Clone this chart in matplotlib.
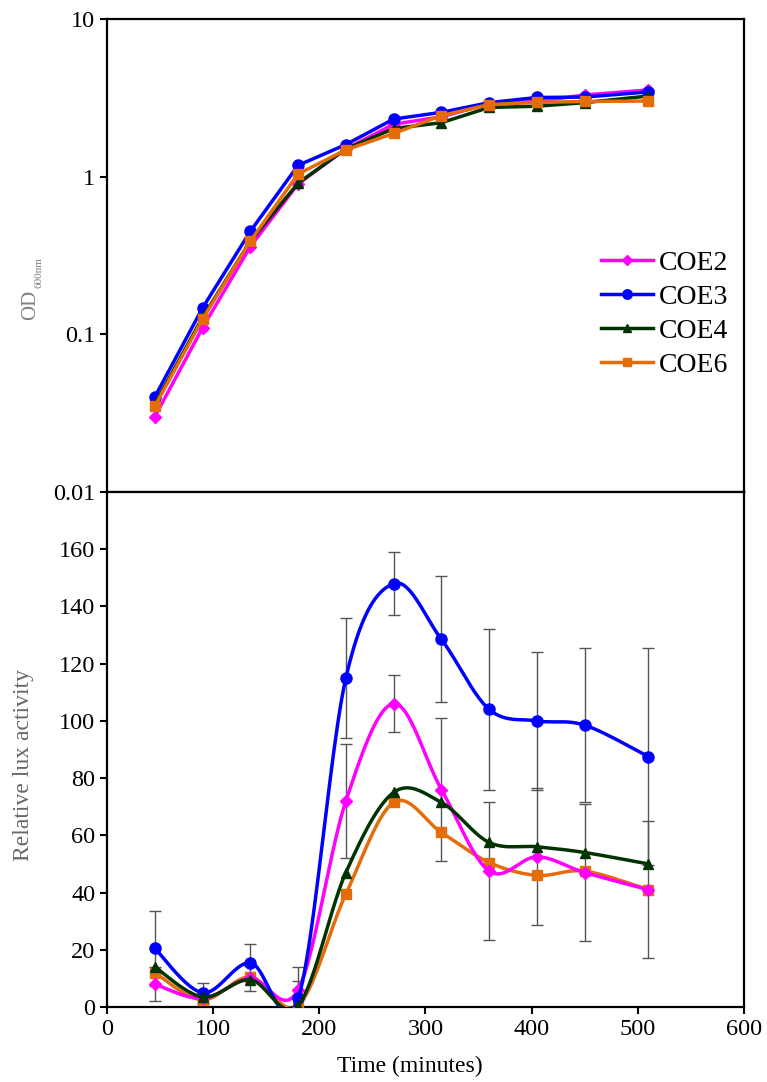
import numpy as np
import matplotlib
matplotlib.use("Agg")
import matplotlib.pyplot as plt

plt.rcParams['font.family'] = ['Liberation Serif', 'DejaVu Serif']

# sampling times (minutes)
time = [45, 90, 135, 180, 225, 270, 315, 360, 405, 450, 510]

# OD600 growth curves
od_coe2 = [0.030, 0.110, 0.36, 0.90, 1.50, 2.15, 2.40, 2.90, 3.00, 3.30, 3.55]
od_coe3 = [0.040, 0.147, 0.45, 1.18, 1.60, 2.32, 2.56, 2.95, 3.18, 3.20, 3.45]
od_coe4 = [0.036, 0.128, 0.39, 0.91, 1.50, 2.02, 2.20, 2.75, 2.80, 2.95, 3.25]
od_coe6 = [0.035, 0.125, 0.39, 1.04, 1.48, 1.88, 2.44, 2.87, 2.96, 3.00, 3.02]

# relative lux activity
lux_coe2 = [8, 3, 10, 6, 72, 106, 76, 47.5, 52.5, 47, 41]
lux_coe3 = [20.5, 5, 15.5, 3, 115, 148, 128.5, 104, 100, 98.5, 87.5]
lux_coe4 = [14, 3.5, 9.5, 0.5, 47, 75, 71.5, 57.5, 56, 54, 50]
lux_coe6 = [12, 2.5, 10.5, 0.5, 39.5, 71.5, 61, 50.5, 46, 47.5, 41]

err_coe2 = [6, 2, 4.5, 8, 20, 10, 25, 24, 24, 24, 24]
err_coe3 = [13, 3.5, 6.5, 6, 21, 11, 22, 28, 24, 27, 38]

names = ['COE2', 'COE3', 'COE4', 'COE6']
colors = ['#FF00FF', '#0000FF', '#003300', '#E46C0A']
markers = ['D', 'o', '^', 's']
msizes = [6, 8, 7, 7]


def smooth(x, y, n=25):
    # Excel-like smoothed line (cubic Bezier, Catmull-Rom control points)
    x = np.asarray(x, float)
    y = np.asarray(y, float)
    px = np.concatenate([[x[0]], x, [x[-1]]])
    py = np.concatenate([[y[0]], y, [y[-1]]])
    xs, ys = [], []
    t = np.linspace(0, 1, n)
    for i in range(1, len(px) - 2):
        p0 = np.array([px[i], py[i]])
        p3 = np.array([px[i + 1], py[i + 1]])
        p1 = p0 + (np.array([px[i + 1], py[i + 1]]) - np.array([px[i - 1], py[i - 1]])) / 6
        p2 = p3 - (np.array([px[i + 2], py[i + 2]]) - np.array([px[i], py[i]])) / 6
        b = ((1 - t) ** 3)[:, None] * p0 + (3 * (1 - t) ** 2 * t)[:, None] * p1 \
            + (3 * (1 - t) * t ** 2)[:, None] * p2 + (t ** 3)[:, None] * p3
        xs.extend(b[:, 0])
        ys.extend(b[:, 1])
    return np.array(xs), np.array(ys)


fig = plt.figure(figsize=(7.67, 10.82), dpi=100)
ax1 = fig.add_axes([0.1395, 0.5453, 0.8305, 0.4371])
ax2 = fig.add_axes([0.1395, 0.0693, 0.8305, 0.4760])

# Top graph: growth
od_all = [od_coe2, od_coe3, od_coe4, od_coe6]
zorders = [3, 4, 5, 6]
for vals, name, c, m, ms, z in zip(od_all, names, colors, markers, msizes, zorders):
    ax1.plot(time, vals, color=c, marker=m, markersize=ms, linewidth=2.5,
             label=name, zorder=z)

ax1.set_yscale('log')
ax1.set_ylim(0.01, 10)
ax1.set_xlim(0, 600)
ax1.set_yticks([0.01, 0.1, 1, 10])
ax1.set_yticklabels(['0.01', '0.1', '1', '10'])
ax1.minorticks_off()
ax1.set_xticks([0, 100, 200, 300, 400, 500, 600])
ax1.tick_params(axis='x', labelbottom=False, direction='out', length=5, width=1.5)
ax1.tick_params(axis='y', direction='out', length=5, width=1.5, labelsize=17.5)
ax1.legend(loc='center left', bbox_to_anchor=(0.775, 0.376), frameon=False,
           fontsize=20, handlelength=1.9, handletextpad=0.2, labelspacing=0.3,
           borderpad=0, borderaxespad=0, markerscale=0.85)

# y label of the top graph with a small subscript
fig.text(40 / 767, 1 - 320 / 1082, 'OD', rotation=90, ha='right', va='bottom',
         fontsize=15, color='#808080')
fig.text(43 / 767, 1 - 288 / 1082, '600nm', rotation=90, ha='right', va='bottom',
         fontsize=8, color='#808080')

# Bottom graph: lux activity
ax2.errorbar(time, lux_coe3, yerr=err_coe3, fmt='none', ecolor='#555555',
             elinewidth=1, capsize=4.5, capthick=1, zorder=2)
ax2.errorbar(time, lux_coe2, yerr=err_coe2, fmt='none', ecolor='#555555',
             elinewidth=1, capsize=4.5, capthick=1, zorder=2)

lux_all = [lux_coe2, lux_coe3, lux_coe4, lux_coe6]
lux_z = [4, 5, 6, 3]
for vals, c, m, ms, z in zip(lux_all, colors, markers, msizes, lux_z):
    sx, sy = smooth(time, vals)
    ax2.plot(sx, sy, color=c, linewidth=2.5, zorder=z)
    ax2.plot(time, vals, linestyle='none', color=c, marker=m, markersize=ms, zorder=z)

ax2.set_xlim(0, 600)
ax2.set_ylim(0, 180)
ax2.set_yticks([0, 20, 40, 60, 80, 100, 120, 140, 160])
ax2.set_xticks([0, 100, 200, 300, 400, 500, 600])
ax2.tick_params(direction='out', length=5, width=1.5, labelsize=17.5)
ax2.set_xlabel('Time (minutes)', fontsize=17)
ax2.xaxis.set_label_coords(0.475, -0.094)
ax2.set_ylabel('Relative lux activity', fontsize=17, color='#666666')
ax2.yaxis.set_label_coords(-0.115, 0.47)

for ax in (ax1, ax2):
    for s in ax.spines.values():
        s.set_linewidth(1.6)

plt.savefig('out.png', dpi=100)
